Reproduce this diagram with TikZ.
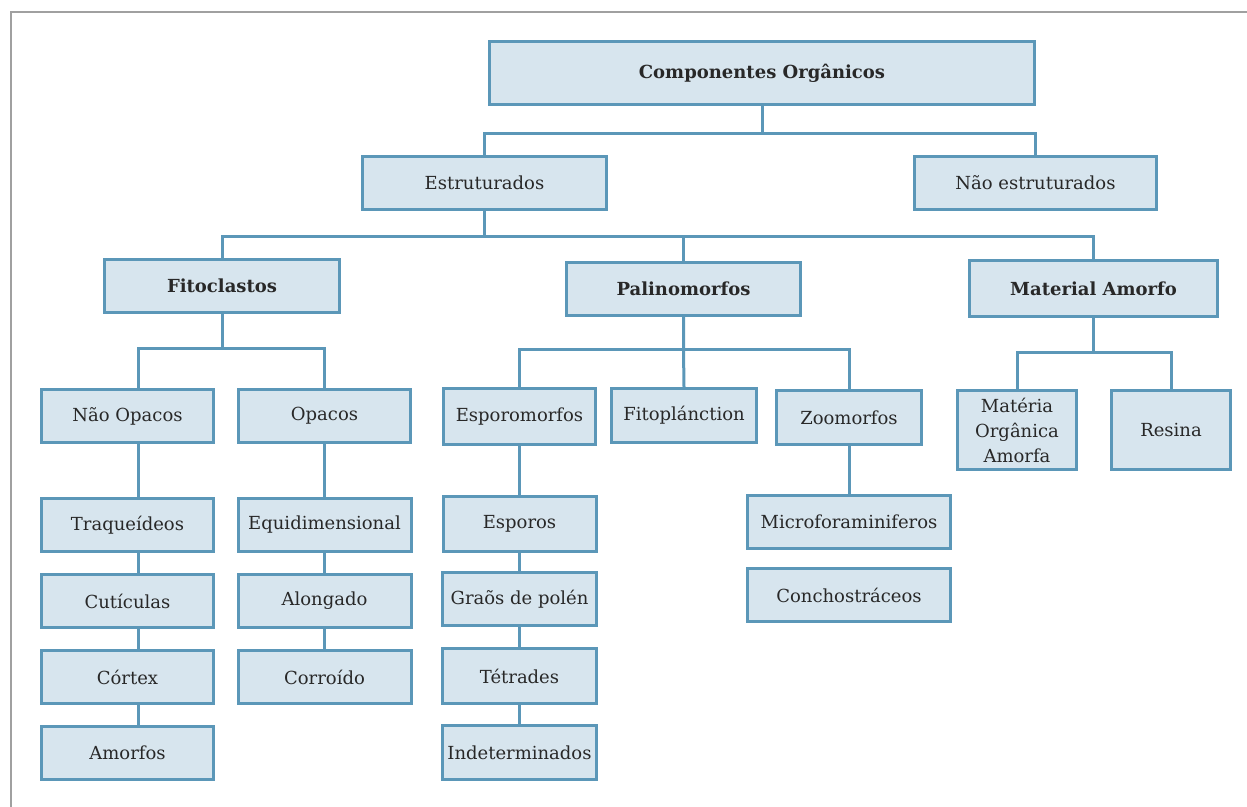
\documentclass[tikz,border=0pt]{standalone}
\definecolor{boxblue}{RGB}{91, 151, 184}
\definecolor{boxfill}{RGB}{215, 229, 238}
\definecolor{textgray}{RGB}{40, 40, 40}
\definecolor{framegray}{RGB}{160, 160, 160}
\usepackage{fontspec}
\setmainfont{DejaVu Serif}
\usepackage{tikz}
\usetikzlibrary{positioning}

\begin{document}
\begin{tikzpicture}[
    x=0.5pt, y=-0.5pt,
    node distance=10pt,
    box/.style={draw=boxblue, fill=boxfill, line width=1.5pt, minimum height=26.5pt,
                align=center, text=textgray, inner sep=2pt,
                font=\fontsize{9}{12.5}\selectfont},
    link/.style={draw=boxblue, line width=1.5pt}
]
    \useasboundingbox (0,0) rectangle (1247,807);
    \draw[framegray, line width=1pt] (11,807) -- (11,12) -- (1247,12);

    % top levels
    \node[box, minimum width=272.5pt, minimum height=31.5pt, font=\fontsize{9}{11}\selectfont\bfseries] (comp) at (762,73) {Componentes Orgânicos};
    \node[box, minimum width=122pt] (estr) at (484.5,183) {Estruturados};
    \node[box, minimum width=121pt] (naoestr) at (1035.5,183) {Não estruturados};

    \node[box, minimum width=117.5pt, font=\fontsize{9}{11}\selectfont\bfseries] (fito) at (222,286) {Fitoclastos};
    \node[box, minimum width=117pt, font=\fontsize{9}{11}\selectfont\bfseries] (palino) at (683.5,289) {Palinomorfos};
    \node[box, minimum width=124pt, minimum height=28pt, font=\fontsize{9}{11}\selectfont\bfseries] (matamorfo) at (1093.5,288.5) {Material Amorfo};

    % fitoclastos
    \node[box, minimum width=86pt] (naoopacos) at (127.5,416) {Não Opacos};
    \node[box, minimum width=86pt] (opacos) at (324.5,416) {Opacos};
    \node[box, minimum width=86pt, below=26.5pt of naoopacos] (traq) {Traqueídeos};
    \node[box, minimum width=86pt, below=of traq] (cut) {Cutículas};
    \node[box, minimum width=86pt, below=of cut] (cortex) {Córtex};
    \node[box, minimum width=86pt, below=of cortex] (amorfos) {Amorfos};
    \node[box, minimum width=86.5pt, below=26.5pt of opacos] (equi) {Equidimensional};
    \node[box, minimum width=86.5pt, below=of equi] (along) {Alongado};
    \node[box, minimum width=86.5pt, below=of along] (corroido) {Corroído};

    % palinomorfos
    \node[box, minimum width=76pt, minimum height=28pt] (esporo) at (519.5,416.5) {Esporomorfos};
    \node[box, minimum width=72.5pt, minimum height=27pt] (fitoplan) at (684,415.5) {Fitoplánction};
    \node[box, minimum width=72.5pt, minimum height=27pt] (zoo) at (849,417.5) {Zoomorfos};
    \node[box, minimum width=76.5pt, minimum height=27.5pt, below=24.5pt of esporo] (esporos) {Esporos};
    \node[box, minimum width=77pt, below=9pt of esporos] (graos) {Graõs de polén};
    \node[box, minimum width=77pt, minimum height=27.5pt, below=of graos] (tetrades) {Tétrades};
    \node[box, minimum width=77pt, minimum height=27pt, below=9.5pt of tetrades] (indet) {Indeterminados};
    \node[box, minimum width=101.5pt, below=24pt of zoo] (micro) {Microforaminiferos};
    \node[box, minimum width=101.5pt, below=8.5pt of micro] (concho) {Conchostráceos};

    % material amorfo
    \node[box, minimum width=59.5pt, minimum height=39.5pt] (materia) at (1017,430) {Matéria\\Orgânica\\Amorfa};
    \node[box, minimum width=59.5pt, minimum height=39.5pt] (resina) at (1171,430) {Resina};

    % connectors
    \coordinate (b1) at (762,134);
    \coordinate (b2) at (484.5,237);
    \coordinate (b3) at (222,349);
    \coordinate (b4) at (683.5,350);
    \coordinate (b5) at (1093.5,353);

    \draw[link] (comp.south) -- (b1);
    \draw[link] (estr.north) |- (b1) -| (naoestr.north);
    \draw[link] (estr.south) -- (b2);
    \draw[link] (fito.north) |- (b2) -| (matamorfo.north);
    \draw[link] (palino.north) -- (palino.north |- b2);
    \draw[link] (fito.south) -- (b3);
    \draw[link] ([xshift=5.5pt]naoopacos.north) |- (b3) -| (opacos.north);
    \draw[link] (palino.south) -- (b4) -- (fitoplan.north);
    \draw[link] (esporo.north) |- (b4) -| (zoo.north);
    \draw[link] (matamorfo.south) -- (b5);
    \draw[link] (materia.north) |- (b5) -| (resina.north);

    \draw[link] ([xshift=5.5pt]naoopacos.south) -- ([xshift=5.5pt]traq.north)
        ([xshift=5.5pt]traq.south) -- ([xshift=5.5pt]cut.north)
        ([xshift=5.5pt]cut.south) -- ([xshift=5.5pt]cortex.north)
        ([xshift=5.5pt]cortex.south) -- ([xshift=5.5pt]amorfos.north);
    \draw[link] (opacos.south) -- (equi.north) (equi.south) -- (along.north)
        (along.south) -- (corroido.north);
    \draw[link] (esporo.south) -- (esporos.north) (esporos.south) -- (graos.north)
        (graos.south) -- (tetrades.north) (tetrades.south) -- (indet.north);
    \draw[link] (zoo.south) -- (micro.north);
\end{tikzpicture}
\end{document}
